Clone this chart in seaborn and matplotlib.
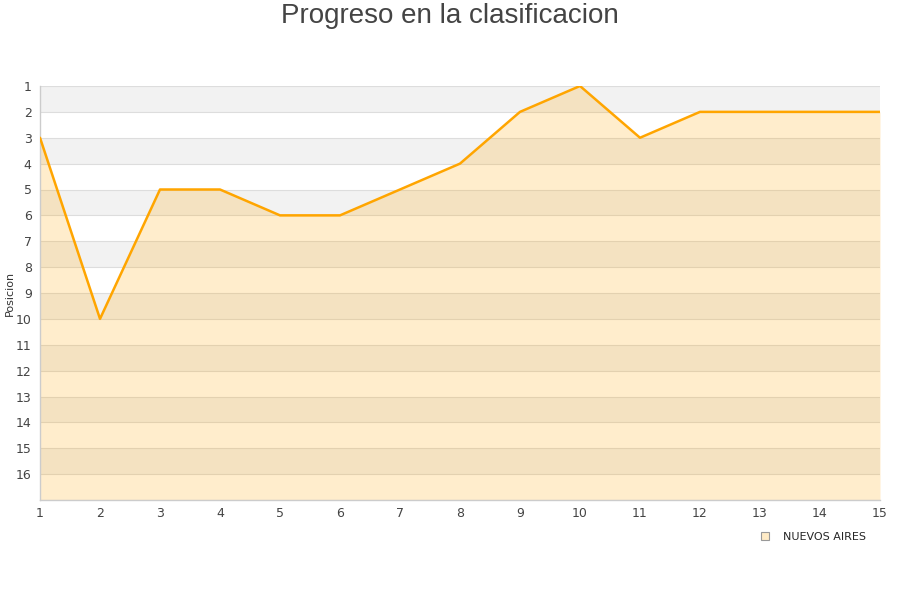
import matplotlib
matplotlib.use("Agg")
import matplotlib.pyplot as plt
import seaborn as sns
import pandas as pd
import numpy as np
from matplotlib.lines import Line2D

# Jornadas y posiciones de NUEVOS AIRES
jornadas = [1, 2, 3, 4, 5, 6, 7, 8, 9, 10, 11, 12, 13, 14, 15]
posiciones = [3, 10, 5, 5, 6, 6, 5, 4, 2, 1, 3, 2, 2, 2, 2]
equipo = "NUEVOS AIRES"
y_ticks = list(range(1, 17))

df = pd.DataFrame({"Jornada": jornadas, "Posicion": posiciones})

sns.set_style("white")
plt.rcParams['font.family'] = ['DejaVu Sans']

fig = plt.figure(figsize=(9, 6), dpi=100)
ax = fig.add_axes([40 / 900, 1 - 500 / 600, 840 / 900, 414 / 600])

# Alternating bands
for k in range(1, 17, 2):
    ax.axhspan(k, k + 1, color='#f2f2f2', zorder=0, lw=0)
for k in range(1, 18):
    ax.axhline(k, color='#dddddd', lw=0.8, zorder=1)

ax.fill_between(df["Jornada"], df["Posicion"], 17, color='#ffa500', alpha=0.2,
                lw=0, zorder=2)
sns.lineplot(data=df, x="Jornada", y="Posicion", color='#ffa500', lw=1.8,
             ax=ax, zorder=3)

ax.set_xlim(1, 15)
ax.set_ylim(17, 1)
ax.set_yticks(y_ticks)
ax.set_xticks(jornadas)
ax.tick_params(axis='both', length=0, labelsize=9, colors='#444444')
ax.tick_params(axis='x', pad=5)
ax.tick_params(axis='y', pad=6)
ax.set_xlabel("")
ax.set_ylabel("Posicion", fontsize=8, color='#333333')
ax.yaxis.set_label_coords(-0.0298, 0.5)

for side in ['top', 'right']:
    ax.spines[side].set_visible(False)
for side in ['left', 'bottom']:
    ax.spines[side].set_color('#cccccc')
    ax.spines[side].set_linewidth(1)

fig.text(0.5, 1 - 16 / 600, "Progreso en la clasificacion", fontsize=20,
         color='#444444', ha='center', va='center',
         family=['Liberation Sans', 'DejaVu Sans'])

handle = Line2D([], [], marker='s', linestyle='none', markersize=6,
                markerfacecolor='#ffebc6', markeredgecolor='#999999',
                markeredgewidth=0.8)
fig.legend([handle], [equipo], loc='center', bbox_to_anchor=(810 / 900, 1 - 537 / 600),
           frameon=False, fontsize=8, handletextpad=0.6)

fig.savefig("out.png", dpi=100)
